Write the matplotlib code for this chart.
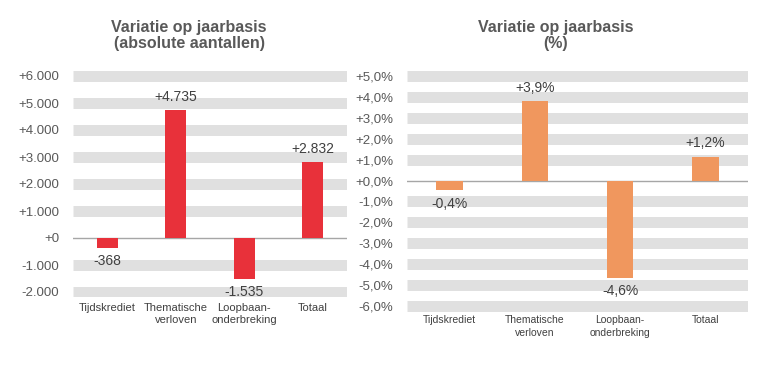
import numpy as np
import matplotlib.pyplot as plt
import matplotlib

matplotlib.rc('font', family='Liberation Sans')

categories = ["Tijdskrediet", "Thematische\nverloven", "Loopbaan-\nonderbreking", "Totaal"]

abs_values = [-368, 4735, -1535, 2832]
abs_labels = ["-368", "+4.735", "-1.535", "+2.832"]
abs_ticks = [-2000, -1000, 0, 1000, 2000, 3000, 4000, 5000, 6000]
abs_ticklabels = ["-2.000", "-1.000", "+0", "+1.000", "+2.000", "+3.000", "+4.000", "+5.000", "+6.000"]

pct_values = [-0.45, 3.8, -4.65, 1.12]
pct_labels = ["-0,4%", "+3,9%", "-4,6%", "+1,2%"]
pct_ticks = list(range(-6, 6))
pct_ticklabels = [("+" if t >= 0 else "") + f"{t},0%" for t in pct_ticks]

W, H = 771, 369
fig = plt.figure(figsize=(W / 100, H / 100), dpi=100)

text_col = "#595959"
band_col = "#E0E0E0"
band_lw = 11 * 72 / 100


def ax_box(x0, x1, y0, y1):
    return [x0 / W, 1 - y1 / H, (x1 - x0) / W, (y1 - y0) / H]


def draw(ax, values, labels, ticks, ticklabels, ylim, color, offset, cat_y, cat_fs):
    x = np.arange(len(values))
    for t in ticks:
        if t != 0:
            ax.axhline(t, color=band_col, lw=band_lw, zorder=0, solid_capstyle='butt')
    ax.axhline(0, color="#A6A6A6", lw=1, zorder=1)
    ax.bar(x, values, width=0.31, color=color, zorder=2)
    for xi, v, lab in zip(x, values, labels):
        if v >= 0:
            ax.text(xi, v + offset, lab, ha='center', va='bottom', fontsize=10, color="#404040")
        else:
            ax.text(xi, v - offset, lab, ha='center', va='top', fontsize=10, color="#404040")
    ax.set_xlim(-0.5, len(values) - 0.5)
    ax.set_ylim(*ylim)
    ax.set_yticks(ticks)
    ax.set_yticklabels(ticklabels, fontsize=9.5, color=text_col)
    ax.tick_params(axis='y', length=0, pad=10)
    ax.set_xticks([])
    for xi, c in zip(x, categories):
        ax.text(xi, cat_y, c, ha='center', va='top', fontsize=cat_fs, color="#404040",
                linespacing=1.3, transform=ax.get_xaxis_transform())
    for s in ax.spines.values():
        s.set_visible(False)


ax1 = fig.add_axes(ax_box(73, 347, 70.6, 297.4))
draw(ax1, abs_values, abs_labels, abs_ticks, abs_ticklabels, (-2200, 6200),
     "#E8313A", 220, -0.025, 8)

ax2 = fig.add_axes(ax_box(407, 748, 70.5, 311.5))
draw(ax2, pct_values, pct_labels, pct_ticks, pct_ticklabels, (-6.27, 5.27),
     "#F0975E", 0.32, -0.015, 7.5)

fig.text(189 / W, 1 - 20 / H, "Variatie op jaarbasis\n(absolute aantallen)", ha='center', va='top',
         fontsize=11.5, fontweight='bold', color=text_col, linespacing=1.1)
fig.text(556 / W, 1 - 20 / H, "Variatie op jaarbasis\n(%)", ha='center', va='top',
         fontsize=11.5, fontweight='bold', color=text_col, linespacing=1.1)

fig.savefig("out.png", dpi=100)
